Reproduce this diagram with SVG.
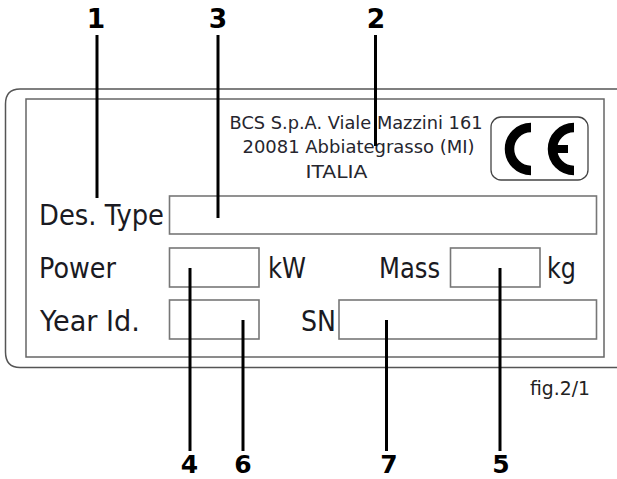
<svg xmlns="http://www.w3.org/2000/svg" width="617" height="479" viewBox="0 0 617 479">
<style>
.lab{font-family:"DejaVu Sans",Verdana,sans-serif;font-size:27.500px;fill:#1a1a22}
.addr{font-family:"DejaVu Sans",Verdana,sans-serif;font-size:17.500px;fill:#26262e;text-anchor:middle}
.num{font-family:"DejaVu Sans",Verdana,sans-serif;font-size:25px;font-weight:bold;fill:#000;text-anchor:middle}
.top{font-size:26.500px}
.box{fill:none;stroke:#777;stroke-width:1.600}
.lead{stroke:#000;stroke-width:3;fill:none}
.ce{fill:none;stroke:#000;stroke-width:9.500}
</style>
<rect width="617" height="479" fill="#fff"/>
<g id="plate">
<path d="M640 89H20Q5.500 89 5.500 104V352Q5.500 367.500 20 367.500H640" fill="none" stroke="#555" stroke-width="1.500"/>
<rect x="26" y="99" width="578" height="258" fill="none" stroke="#666" stroke-width="1.500"/>
</g>
<g id="address">
<text class="addr" x="356" y="129" textLength="253" lengthAdjust="spacingAndGlyphs">BCS S.p.A. Viale Mazzini 161</text>
<text class="addr" x="358.500" y="153" textLength="232" lengthAdjust="spacingAndGlyphs">20081 Abbiategrasso (MI)</text>
<text class="addr" x="336.500" y="178" textLength="62" lengthAdjust="spacingAndGlyphs">ITALIA</text>
</g>
<g id="ce-mark" aria-label="CE">
<rect x="491" y="117" width="97" height="63" rx="10" fill="none" stroke="#444" stroke-width="1.300"/>
<path class="ce" d="M531 127.500A21.500 21.500 0 0 0 531 170.500"/>
<path class="ce" d="M574 127.500A21.500 21.500 0 0 0 574 170.500"/>
<path d="M555 149H568" fill="none" stroke="#000" stroke-width="8"/>
</g>
<g id="field-type">
<text class="lab" x="39" y="225" textLength="125" lengthAdjust="spacingAndGlyphs">Des. Type</text>
<rect class="box" x="169.500" y="196" width="427" height="38"/>
</g>
<g id="field-power">
<text class="lab" x="39" y="278" textLength="77" lengthAdjust="spacingAndGlyphs">Power</text>
<rect class="box" x="169.500" y="248" width="89.500" height="39"/>
<text class="lab" x="268" y="278" textLength="38" lengthAdjust="spacingAndGlyphs">kW</text>
</g>
<g id="field-mass">
<text class="lab" x="379" y="278" textLength="61" lengthAdjust="spacingAndGlyphs">Mass</text>
<rect class="box" x="450.500" y="248" width="89.500" height="39"/>
<text class="lab" x="547" y="278" textLength="29" lengthAdjust="spacingAndGlyphs">kg</text>
</g>
<g id="field-year">
<text class="lab" x="40" y="331" textLength="100" lengthAdjust="spacingAndGlyphs">Year Id.</text>
<rect class="box" x="169.500" y="300" width="89.500" height="39"/>
</g>
<g id="field-sn">
<text class="lab" x="301" y="331" textLength="35" lengthAdjust="spacingAndGlyphs">SN</text>
<rect class="box" x="339" y="300" width="257.500" height="39"/>
</g>
<g id="connectors">
<line class="lead" x1="97" y1="35" x2="97" y2="198"/>
<line class="lead" x1="218" y1="35" x2="218" y2="218"/>
<line class="lead" x1="375.500" y1="35" x2="375.500" y2="146"/>
<line class="lead" x1="190" y1="268" x2="190" y2="451"/>
<line class="lead" x1="243" y1="320" x2="243" y2="451"/>
<line class="lead" x1="386.500" y1="320" x2="386.500" y2="451"/>
<line class="lead" x1="500" y1="268" x2="500" y2="451"/>
</g>
<g id="callouts">
<text class="num top" x="96" y="28">1</text>
<text class="num top" x="218" y="28">3</text>
<text class="num top" x="376" y="28">2</text>
<text class="num" x="189.500" y="473">4</text>
<text class="num" x="243" y="473">6</text>
<text class="num" x="389" y="473">7</text>
<text class="num" x="501" y="473">5</text>
</g>
<text id="fig" x="530" y="395" font-family="'DejaVu Sans',sans-serif" font-size="20" fill="#222" textLength="60" lengthAdjust="spacingAndGlyphs">fig.2/1</text>
</svg>
